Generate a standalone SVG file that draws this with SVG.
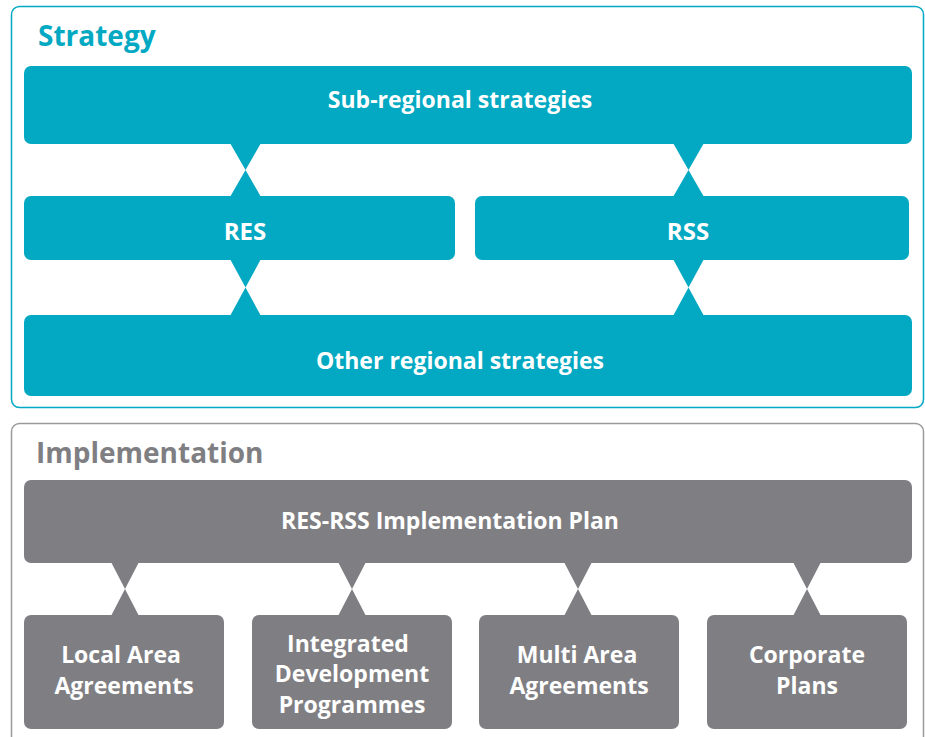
<svg xmlns="http://www.w3.org/2000/svg" width="925" height="737" viewBox="0 0 925 737">
<style>
.t{fill:#03A9C2}
.g{fill:#7F7F83}
.lbl{font-family:"Open Sans","Liberation Sans",sans-serif;font-weight:700;fill:#fff;font-size:23px;text-anchor:middle}
.big{font-size:24px}
.title{font-family:"Open Sans","Liberation Sans",sans-serif;font-weight:700;font-size:28px}
</style>
<rect x="11.5" y="6.5" width="912" height="401" rx="8" fill="#fff" stroke="#03A9C2" stroke-width="1.5"/>
<rect x="11.5" y="423.5" width="912" height="330" rx="8" fill="#fff" stroke="#9A9A9D" stroke-width="1.5"/>
<text class="title" x="38" y="46" fill="#03A9C2">Strategy</text>
<text class="title" x="36" y="463" fill="#7F7F83">Implementation</text>
<g id="connectors">
<path class="t" d="M230 143 L261 143 L230 197 L261 197 Z"/>
<path class="t" d="M673 143 L704 143 L673 197 L704 197 Z"/>
<path class="t" d="M230 259 L261 259 L230 316 L261 316 Z"/>
<path class="t" d="M673 259 L704 259 L673 316 L704 316 Z"/>
<path class="g" d="M111 562 L139 562 L111 616 L139 616 Z"/>
<path class="g" d="M338 562 L366 562 L338 616 L366 616 Z"/>
<path class="g" d="M564 562 L592 562 L564 616 L592 616 Z"/>
<path class="g" d="M793 562 L821 562 L793 616 L821 616 Z"/>
</g>
<g id="sub-regional"><rect class="t" x="24" y="66" width="888" height="78" rx="7"/><text class="lbl" x="460" y="108">Sub-regional strategies</text></g>
<g id="res"><rect class="t" x="24" y="196" width="431" height="64" rx="7"/><text class="lbl big" x="245" y="240">RES</text></g>
<g id="rss"><rect class="t" x="475" y="196" width="434" height="64" rx="7"/><text class="lbl big" x="688" y="240">RSS</text></g>
<g id="other-regional"><rect class="t" x="24" y="315" width="888" height="81" rx="7"/><text class="lbl" x="460" y="369">Other regional strategies</text></g>
<g id="plan"><rect class="g" x="24" y="480" width="888" height="83" rx="7"/><text class="lbl" x="450" y="529">RES-RSS Implementation Plan</text></g>
<g id="laa"><rect class="g" x="24" y="615" width="200" height="114" rx="7"/><text class="lbl" x="121" y="663">Local Area</text><text class="lbl" x="124" y="694">Agreements</text></g>
<g id="idp"><rect class="g" x="252" y="615" width="200" height="114" rx="7"/><text class="lbl" x="348" y="652">Integrated</text><text class="lbl" x="352" y="682">Development</text><text class="lbl" x="352" y="713">Programmes</text></g>
<g id="maa"><rect class="g" x="479" y="615" width="200" height="114" rx="7"/><text class="lbl" x="577" y="663">Multi Area</text><text class="lbl" x="579" y="694">Agreements</text></g>
<g id="cp"><rect class="g" x="707" y="615" width="200" height="114" rx="7"/><text class="lbl" x="807" y="663">Corporate</text><text class="lbl" x="807" y="694">Plans</text></g>
</svg>
